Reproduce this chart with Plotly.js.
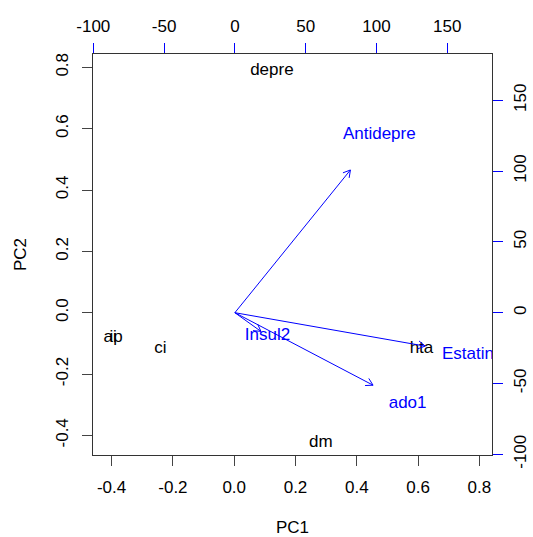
<!DOCTYPE html>
<html>
<head>
<meta charset="utf-8">
<script src="https://cdn.plot.ly/plotly-3.0.1.min.js"></script>
<style>html,body{margin:0;padding:0;background:#fff;}#plot{width:533px;height:537px;}</style>
</head>
<body>
<div id="plot"></div>
<script>
// Observation scores (PC1, PC2)
const obsLabels = ['ai', 'ip', 'ci', 'depre', 'hta', 'dm'];
const obsPC1 = [-0.405, -0.385, -0.241, 0.123, 0.611, 0.283];
const obsPC2 = [-0.083, -0.083, -0.118, 0.788, -0.118, -0.423];

// Variable loadings (secondary axes)
const varLabels = ['Antidepre', 'Insul2', 'ado1', 'Estatina'];
const varX = [102, 23, 122, 168];
const varY = [126, -16.5, -64, -29.5];

// Tick labels
const pcTicks = ['-0.4', '-0.2', '0.0', '0.2', '0.4', '0.6', '0.8'];
const loadTicks = ['-100', '-50', '0', '50', '100', '150'];

const W = 533, H = 537;
const M = {l: 93, r: 41, t: 54, b: 82};
const xRange = [-0.4607, 0.8412];
const yRange = [-0.464, 0.8435];
const x2Range = [-100.2, 181.6];
const y2Range = [-100.5, 182.7];

const FONT = 'Liberation Sans, Arial, sans-serif';
const FS = 17;
const BLUE = '#0000ff';

// arrows from origin to 0.8 * loading, with open heads (R style)
const pw = W - M.l - M.r, ph = H - M.t - M.b;
const pxX = pw / (x2Range[1] - x2Range[0]);
const pxY = ph / (y2Range[1] - y2Range[0]);
const headLen = 8, headAng = Math.PI / 6;
const ax = [], ay = [];
for (let i = 0; i < varX.length; i++) {
  const tx = 0.8 * varX[i], ty = 0.8 * varY[i];
  ax.push(0, tx, null);
  ay.push(0, ty, null);
  const ang = Math.atan2(ty * pxY, tx * pxX);
  for (const s of [1, -1]) {
    const a = ang + Math.PI + s * headAng;
    ax.push(tx + headLen * Math.cos(a) / pxX, tx, null);
    ay.push(ty + headLen * Math.sin(a) / pxY, ty, null);
  }
}

const data = [
  {
    type: 'scatter', mode: 'text', x: obsPC1, y: obsPC2, text: obsLabels,
    textposition: 'middle center', textfont: {family: FONT, size: FS, color: '#000'},
    cliponaxis: true, hoverinfo: 'skip', showlegend: false, xaxis: 'x', yaxis: 'y'
  },
  {
    type: 'scatter', mode: 'lines', x: ax, y: ay, connectgaps: false,
    line: {color: BLUE, width: 1}, hoverinfo: 'skip', showlegend: false,
    xaxis: 'x2', yaxis: 'y2'
  },
  {
    type: 'scatter', mode: 'text', x: varX, y: varY, text: varLabels,
    textposition: 'middle center', textfont: {family: FONT, size: FS, color: BLUE},
    cliponaxis: true, hoverinfo: 'skip', showlegend: false, xaxis: 'x2', yaxis: 'y2'
  }
];

const baseAxis = {
  showgrid: false, zeroline: false, ticks: 'outside', ticklen: 10, tickwidth: 1,
  ticklabelstandoff: 7,
  tickfont: {family: FONT, size: FS, color: '#000'}, fixedrange: true
};

const layout = {
  width: W, height: H, margin: M,
  paper_bgcolor: '#fff', plot_bgcolor: '#fff',
  font: {family: FONT, size: FS, color: '#000'},
  showlegend: false,
  xaxis: Object.assign({}, baseAxis, {
    range: xRange, tickmode: 'array', tickvals: pcTicks.map(Number), ticktext: pcTicks,
    tickcolor: '#444', showline: true, mirror: true, linecolor: '#333', linewidth: 1,
    title: {text: 'PC1', font: {family: FONT, size: FS}, standoff: 31}
  }),
  yaxis: Object.assign({}, baseAxis, {
    range: yRange, tickmode: 'array', tickvals: pcTicks.map(Number), ticktext: pcTicks,
    tickangle: -90, tickcolor: '#444', showline: true, mirror: true, linecolor: '#333', linewidth: 1,
    title: {text: 'PC2', font: {family: FONT, size: FS}, standoff: 22}
  }),
  xaxis2: Object.assign({}, baseAxis, {
    range: x2Range, overlaying: 'x', side: 'top', anchor: 'y',
    tickmode: 'array', tickvals: loadTicks.map(Number), ticktext: loadTicks,
    tickcolor: BLUE, showline: false, ticklabelstandoff: 4
  }),
  yaxis2: Object.assign({}, baseAxis, {
    range: y2Range, overlaying: 'y', side: 'right', anchor: 'x',
    tickmode: 'array', tickvals: loadTicks.map(Number), ticktext: loadTicks,
    tickangle: -90, tickcolor: BLUE, showline: false, ticklabelstandoff: 3
  })
};

Plotly.newPlot('plot', data, layout, {staticPlot: true, displayModeBar: false});
</script>
</body>
</html>
